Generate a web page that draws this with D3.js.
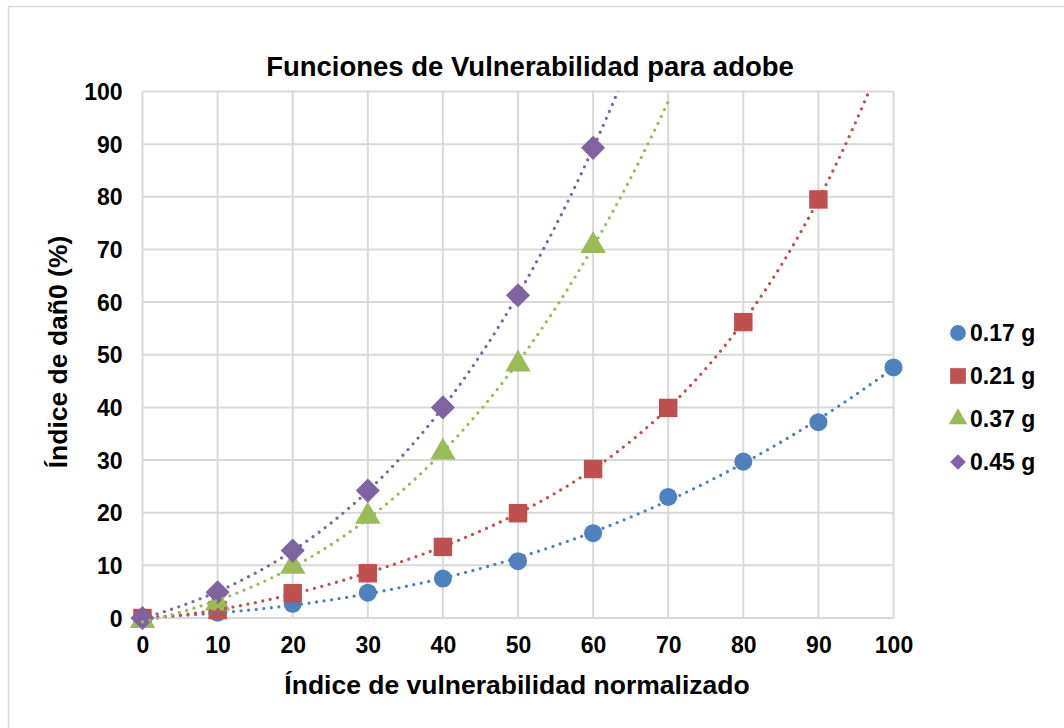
<!DOCTYPE html>
<html><head><meta charset="utf-8">
<script src="https://cdn.jsdelivr.net/npm/d3@7"></script>
<style>body{margin:0;background:#fff}svg{display:block;font-family:"Liberation Sans",Arial,sans-serif}</style>
</head><body><svg id="c" width="1064" height="728"></svg>
<script>
const title = "Funciones de Vulnerabilidad para adobe";
const xTitle = "Índice de vulnerabilidad normalizado";
const yTitle = "Índice de dañ0 (%)";
const xTicks = [0,10,20,30,40,50,60,70,80,90,100];
const yTicks = [0,10,20,30,40,50,60,70,80,90,100];
const seriesNames = ["0.17 g","0.21 g","0.37 g","0.45 g"];
const seriesColors = ["#4F81BD","#C0504D","#9BBB59","#8064A2"];
const x017 = [0,10,20,30,40,50,60,70,80,90,100];
const y017 = [0,1,2.7,4.8,7.5,10.8,16.1,23,29.7,37.2,47.6];
const x021 = [0,10,20,30,40,50,60,70,80,90];
const y021 = [0,1.5,4.7,8.5,13.5,19.9,28.3,39.9,56.2,79.5];
const x037 = [0,10,20,30,40,50,60];
const y037 = [-0.5,2.8,9.8,19.3,31.5,48.2,70.7];
const x045 = [0,10,20,30,40,50,60];
const y045 = [0,4.9,12.8,24.2,40,61.3,89.3];
const trendOrder = [3,4,3,3];

const series = [[x017,y017],[x021,y021],[x037,y037],[x045,y045]].map((s,i)=>({
  name:seriesNames[i], color:seriesColors[i], pts:s[0].map((x,j)=>({x, y:s[1][j]}))}));

const svg = d3.select("#c");
const L=142.5,R=893.5,T=91.5,B=618;
const xs = d3.scaleLinear().domain([0,100]).range([L,R]);
const ys = d3.scaleLinear().domain([0,100]).range([B,T]);
const FF="Liberation Sans, Arial, sans-serif";

svg.append("rect").attr("x",8.5).attr("y",6.5).attr("width",1070).attr("height",740)
  .attr("fill","#fff").attr("stroke","#d9d9d9").attr("stroke-width",1.5);

// grid
const g = svg.append("g");
g.selectAll(".vx").data(xTicks).join("line").attr("x1",d=>xs(d)).attr("x2",d=>xs(d))
  .attr("y1",T).attr("y2",B).attr("stroke","#d9d9d9").attr("stroke-width",2);
g.selectAll(".hy").data(yTicks).join("line").attr("y1",d=>ys(d)).attr("y2",d=>ys(d))
  .attr("x1",L).attr("x2",R).attr("stroke","#d9d9d9").attr("stroke-width",2);

// axes labels
const xAxis = d3.axisBottom(xs).tickValues(xTicks).tickSize(0).tickPadding(0);
const xa = svg.append("g").attr("transform",`translate(0,${B})`).call(xAxis);
xa.select(".domain").remove();
xa.selectAll("text").attr("font-size",23).attr("font-weight","bold").attr("fill","#000")
  .attr("font-family",FF).attr("dy",0).attr("y",35);
const yAxis = d3.axisLeft(ys).tickValues(yTicks).tickSize(0).tickPadding(0);
const ya = svg.append("g").attr("transform",`translate(${L-20},0)`).call(yAxis);
ya.select(".domain").remove();
ya.selectAll("text").attr("font-size",23).attr("font-weight","bold").attr("fill","#000")
  .attr("font-family",FF).attr("dy","0.35em");

svg.append("text").attr("x",530).attr("y",76).attr("text-anchor","middle")
  .attr("font-size",27.5).attr("font-weight","bold").text(title);
svg.append("text").attr("x",517).attr("y",694).attr("text-anchor","middle")
  .attr("font-size",26.5).attr("font-weight","bold").text(xTitle);
svg.append("text").attr("transform","translate(67,352) rotate(-90)").attr("text-anchor","middle")
  .attr("font-size",26.5).attr("font-weight","bold").text(yTitle);

// markers (diamond = square rotated 45°)
const sym = [d3.symbolCircle,d3.symbolSquare,d3.symbolTriangle,d3.symbolSquare];
const rot = [0,0,0,45];
const sizes = [255,340,280,290];
series.forEach((s,i)=>{
  svg.append("g").selectAll("path").data(s.pts).join("path")
    .attr("transform",d=>`translate(${xs(d.x)},${ys(d.y)}) rotate(${rot[i]})`)
    .attr("d",d3.symbol().type(sym[i]).size(sizes[i])).attr("fill",s.color);
});

// polynomial trendlines (least-squares fit of each series)
function polyfit(pts,deg){
  const n=deg+1;
  const A=Array.from({length:n},()=>Array(n+1).fill(0));
  pts.forEach(p=>{const xn=p.x/100;
    for(let r=0;r<n;r++){for(let c=0;c<n;c++)A[r][c]+=Math.pow(xn,r+c);A[r][n]+=p.y*Math.pow(xn,r);}});
  for(let i=0;i<n;i++){let m=i;for(let k=i+1;k<n;k++)if(Math.abs(A[k][i])>Math.abs(A[m][i]))m=k;
    [A[i],A[m]]=[A[m],A[i]];
    for(let k=0;k<n;k++){if(k===i)continue;const f=A[k][i]/A[i][i];for(let c=i;c<=n;c++)A[k][c]-=f*A[i][c];}}
  const co=A.map((r,i)=>r[n]/r[i]);
  return x=>co.reduce((s,c,i)=>s+c*Math.pow(x/100,i),0);
}
const defs=svg.append("defs");
defs.append("clipPath").attr("id","pc").append("rect").attr("x",L-5).attr("y",T).attr("width",R-L+5).attr("height",B-T+10);
series.forEach((s,i)=>{
  const f=polyfit(s.pts,trendOrder[i]);
  const xmax=Math.min(100,d3.max(s.pts,d=>d.x)+10);
  const line=d3.range(0,xmax+0.001,0.25).map(x=>({x,y:f(x)}));
  svg.append("path").datum(line).attr("clip-path","url(#pc)")
    .attr("d",d3.line().x(d=>xs(d.x)).y(d=>ys(d.y)))
    .attr("fill","none").attr("stroke",s.color).attr("stroke-width",3.3)
    .attr("stroke-linecap","round").attr("stroke-dasharray","0 7.6");
});

// legend
const lg=svg.append("g");
series.forEach((s,i)=>{
  const yy=333+i*43;
  lg.append("path").attr("transform",`translate(958,${yy}) rotate(${rot[i]})`)
    .attr("d",d3.symbol().type(sym[i]).size([195,246,150,120][i])).attr("fill",s.color);
  lg.append("text").attr("x",970).attr("y",yy).attr("dy","0.36em").attr("font-size",23)
    .attr("font-weight","bold").text(s.name);
});
</script></body></html>
